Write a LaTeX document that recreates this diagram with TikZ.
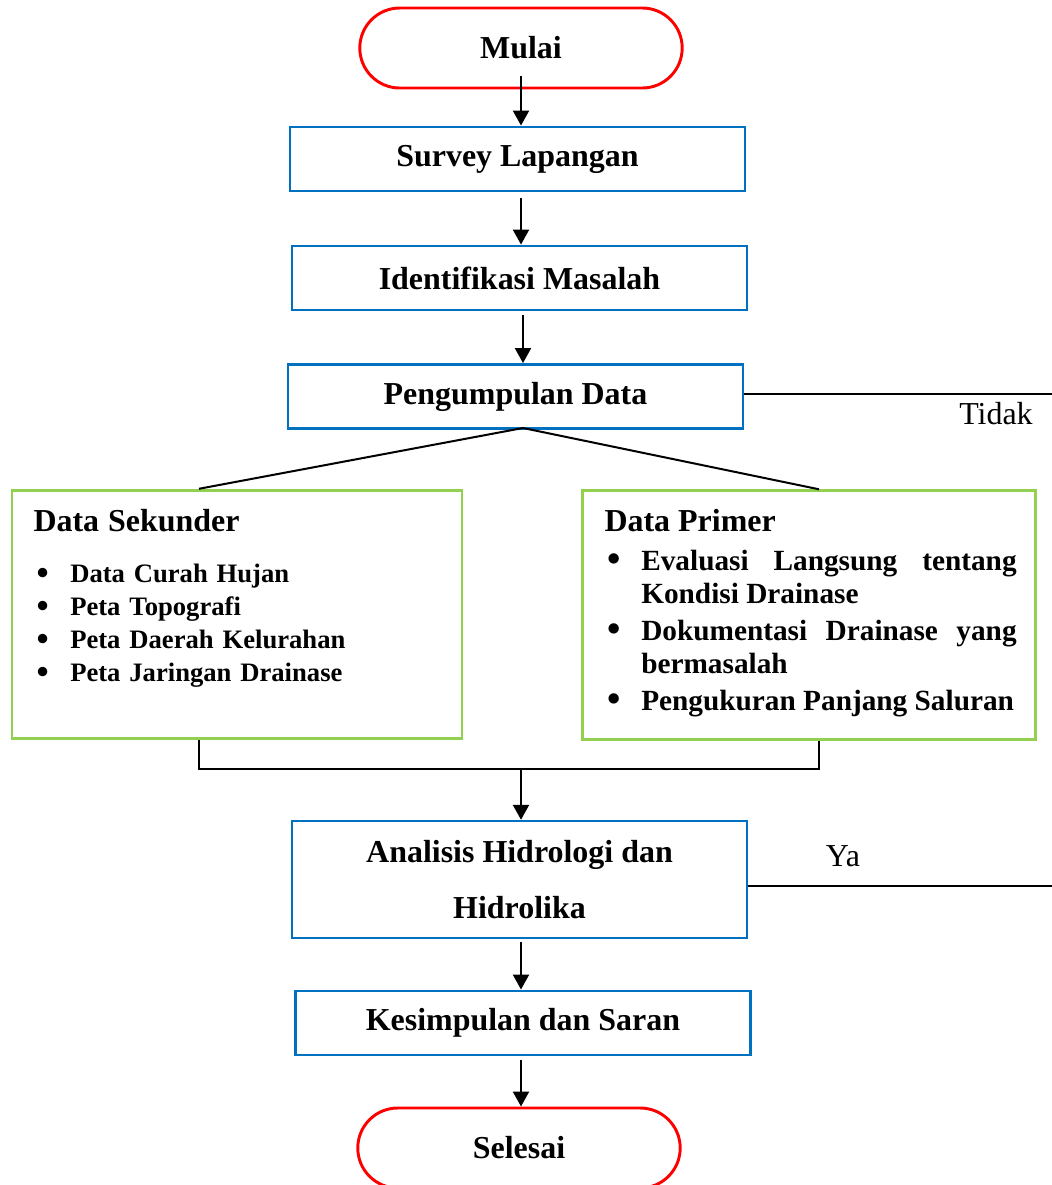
\documentclass[tikz,border=0pt]{standalone}
\usepackage{fontspec}
\setmainfont{Liberation Serif}
\usetikzlibrary{arrows.meta,shapes.misc}

\definecolor{merah}{RGB}{255,0,0}
\definecolor{biru}{RGB}{0,112,192}
\definecolor{hijau}{RGB}{146,208,80}

% bullet item with hanging indent
\newcommand{\butir}{\noindent\hangindent=13.8pt\hangafter=1%
   \makebox[13.8pt][l]{\hspace{1.2pt}\raisebox{-0.7pt}{\scalebox{1.3}{\textbullet}}}}

\begin{document}
\begin{tikzpicture}[x=0.0132cm,y=-0.0132cm,
   terminal/.style={draw=merah,line width=1.1pt,rounded rectangle,minimum width=4.49cm,
                    minimum height=1.056cm,font=\bfseries\fontsize{12}{14}\selectfont},
   proses/.style={draw=biru,line width=0.95pt,minimum width=6.006cm,minimum height=0.85cm,
                  font=\bfseries\fontsize{12}{14}\selectfont},
   datakotak/.style={draw=hijau,line width=1.1pt,minimum height=3.28cm},
   isi/.style={anchor=north west,inner sep=0pt,font=\bfseries},
   ket/.style={font=\fontsize{12}{14}\selectfont},
   panah/.style={-{Triangle[length=5.6pt,width=6pt]},line width=0.75pt},
   garis/.style={line width=0.75pt}]
   \useasboundingbox (0,0) rectangle (1052,1185);

   \node[terminal] (mulai) at (521,48) {Mulai};
   \node[proses] (survey) at (517.5,159) {Survey Lapangan};
   \node[proses] (identifikasi) at (519.5,278) {Identifikasi Masalah};
   \node[proses] (pengumpulan) at (515.5,396.5) {Pengumpulan Data};

   \node[datakotak,minimum width=5.94cm] (sekunder) at (237,614.5) {};
   \node[datakotak,minimum width=5.99cm] (primer) at (809,615) {};

   \node[isi,text width=5.5cm] (isiSekunder) at (33,509)
      {\parskip=0pt
       {\fontsize{12}{14}\selectfont Data Sekunder\par}
       \vspace{6.7pt}\fontsize{10}{12.4}\selectfont
       \butir Data Curah Hujan\par
       \butir Peta Topografi\par
       \butir Peta Daerah Kelurahan\par
       \butir Peta Jaringan Drainase\par};
   \node[isi,text width=5.44cm,align=justify] (isiPrimer) at (604,509)
      {\parskip=1.5pt\hyphenpenalty=10000\sloppy
       {\fontsize{12}{14}\selectfont Data Primer\par}
       \vspace{0.5pt}\fontsize{11}{12.4}\selectfont
       \butir Evaluasi Langsung tentang\linebreak Kondisi Drainase\par
       \butir Dokumentasi Drainase yang\linebreak bermasalah\par
       \butir \mbox{Pengukuran Panjang Saluran}\par};

   \node[proses,minimum height=1.544cm,align=center,
         font=\bfseries\fontsize{12}{21}\selectfont] (analisis) at (519.5,879.5)
         {Analisis Hidrologi dan\\Hidrolika};
   \node[proses] (kesimpulan) at (523,1023) {Kesimpulan dan Saran};
   \node[terminal] (selesai) at (519,1148) {Selesai};

   \node[ket] (tidak) at (996,414) {Tidak};
   \node[ket] (ya) at (843,856) {Ya};

   \coordinate (pecah) at (523,428);
   \coordinate (kiri) at (199,769);
   \coordinate (kanan) at (819,769);
   \coordinate (gabung) at (521,769);
   \coordinate (ujungTidak) at (1052,394);
   \coordinate (ujungYa) at (1052,886);

   % alur utama
   \draw[panah,shorten <=-4.9pt] (mulai.south) -- (survey.north -| mulai.south);
   \draw[panah,shorten <=2.2pt] (survey.south -| mulai) -- (identifikasi.north -| mulai);
   \draw[panah,shorten <=1.2pt] (identifikasi.south -| pecah) -- (pengumpulan.north -| pecah);
   \draw[garis] (sekunder.north -| kiri) -- (pecah) -- (primer.north -| kanan);
   \draw[garis] (sekunder.south -| kiri) -- (kiri) -- (kanan) -- (primer.south -| kanan);
   \draw[panah] (gabung) -- (analisis.north -| gabung);
   \draw[panah,shorten <=1.2pt] (analisis.south -| mulai) -- (kesimpulan.north -| mulai);
   \draw[panah,shorten <=1.2pt] (kesimpulan.south -| mulai) -- (selesai.north -| mulai);

   % cabang kanan
   \draw[garis] (pengumpulan.east |- ujungTidak) -- (ujungTidak);
   \draw[garis] (analisis.east |- ujungYa) -- (ujungYa);
\end{tikzpicture}
\end{document}
